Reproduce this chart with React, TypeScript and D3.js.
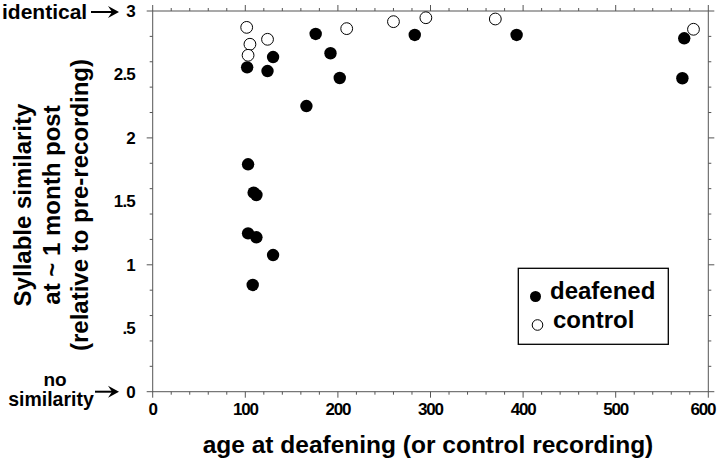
import React from "react";
import * as d3 from "d3";

const deafenedAge = [102, 124, 130, 166, 176, 192, 202, 103, 109, 112, 103, 112, 130, 108, 283, 393, 574, 572];
const deafenedSim = [2.556, 2.527, 2.637, 2.251, 2.819, 2.667, 2.472, 1.792, 1.568, 1.55, 1.248, 1.217, 1.077, 0.841, 2.811, 2.811, 2.785, 2.47];
const controlAge = [101.5, 105, 103, 124, 209.5, 260, 295, 370, 584];
const controlSim = [2.871, 2.738, 2.651, 2.777, 2.861, 2.916, 2.947, 2.937, 2.856];

const xTickValues = [0, 100, 200, 300, 400, 500, 600];
const xTickLabels = ["0", "100", "200", "300", "400", "500", "600"];
const yTickValues = [0, 0.5, 1, 1.5, 2, 2.5, 3];
const yTickLabels = ["0", ".5", "1", "1.5", "2", "2.5", "3"];

const xTitle = "age at deafening (or control recording)";
const yTitleLines = ["Syllable similarity", "at ~ 1 month post", "(relative to pre-recording)"];
const seriesNames = ["deafened", "control"];

const FONT = "'Liberation Sans', Arial, Helvetica, sans-serif";
const AXIS = "#555";

export default function App() {
  const x = d3.scaleLinear().domain([0, 600]).range([152.7, 708.3]);
  const y = d3.scaleLinear().domain([0, 3]).range([391.7, 11]);
  const [x0, x1] = x.range();
  const [y0, y1] = y.range();
  const xMinor = x.ticks(24);
  const yMinor = y.ticks(12);
  const isMajorX = (v: number) => Math.abs(v % 100) < 1e-6;
  const isMajorY = (v: number) => Math.abs((v * 2) % 1) < 1e-6;

  const arrow = (xs: number, xe: number, yc: number) => (
    <g>
      <line x1={xs} x2={xe - 4} y1={yc} y2={yc} stroke="#000" strokeWidth={2} />
      <path
        d={`M${xe - 11},${yc - 6} L${xe},${yc} L${xe - 11},${yc + 6} L${xe - 7},${yc} Z`}
        fill="#000"
      />
    </g>
  );

  return (
    <svg
      width={720}
      height={460}
      style={{ position: "absolute", left: 0, top: 0, background: "#fff" }}
      fontFamily={FONT}
    >
      <rect x={0} y={0} width={720} height={460} fill="#fff" />
      {/* frame */}
      <rect x={x0} y={y1} width={x1 - x0} height={y0 - y1} fill="none" stroke={AXIS} strokeWidth={1} />
      {/* x ticks bottom & top */}
      {xMinor.map((v, i) => {
        const L = isMajorX(v) ? 6 : 3;
        return (
          <g key={"xt" + i} stroke={AXIS} strokeWidth={1}>
            <line x1={x(v)} x2={x(v)} y1={y0} y2={y0 + L} />
            <line x1={x(v)} x2={x(v)} y1={y1} y2={y1 - L} />
          </g>
        );
      })}
      {yMinor.map((v, i) => {
        const L = isMajorY(v) ? 6 : 3;
        return (
          <g key={"yt" + i} stroke={AXIS} strokeWidth={1}>
            <line x1={x0} x2={x0 - L} y1={y(v)} y2={y(v)} />
            <line x1={x1} x2={x1 + L} y1={y(v)} y2={y(v)} />
          </g>
        );
      })}
      {/* x tick labels */}
      {xTickValues.map((v, i) => (
        <text
          key={"xl" + i}
          x={Math.min(x(v), 703)}
          y={415}
          textAnchor="middle"
          fontSize={17}
          fontWeight="bold"
          letterSpacing={-1.2}
        >
          {xTickLabels[i]}
        </text>
      ))}
      {/* y tick labels */}
      {yTickValues.map((v, i) => (
        <text
          key={"yl" + i}
          x={135}
          y={y(v)}
          dy="0.35em"
          textAnchor="end"
          fontSize={17}
          fontWeight="bold"
          letterSpacing={-0.8}
        >
          {yTickLabels[i]}
        </text>
      ))}
      {/* identical / no similarity annotations */}
      <text x={2} y={18.5} fontSize={21} fontWeight="bold">identical</text>
      {arrow(91, 119, y(3) + 1)}
      <text x={55} y={386} textAnchor="middle" fontSize={19} fontWeight="bold">no</text>
      <text x={51} y={406} textAnchor="middle" fontSize={19.5} fontWeight="bold">similarity</text>
      {arrow(95, 119, y(0))}
      {/* axis titles */}
      <text x={428} y={453} textAnchor="middle" fontSize={24.5} fontWeight="bold">{xTitle}</text>
      {yTitleLines.map((t, i) => (
        <text
          key={"yt-title" + i}
          transform={`translate(${31 + i * 28.5},205) rotate(-90)`}
          textAnchor="middle"
          fontSize={24}
          fontWeight="bold"
        >
          {t}
        </text>
      ))}
      {/* data */}
      {deafenedAge.map((a, i) => (
        <circle key={"d" + i} cx={x(a)} cy={y(deafenedSim[i])} r={6.2} fill="#000" />
      ))}
      {controlAge.map((a, i) => (
        <circle key={"c" + i} cx={x(a)} cy={y(controlSim[i])} r={5.9} fill="#fff" stroke="#000" strokeWidth={1} />
      ))}
      {/* legend */}
      <rect x={518.3} y={268.3} width={150} height={76} fill="#fff" stroke="#000" strokeWidth={1.3} />
      <circle cx={535.5} cy={296.5} r={5.5} fill="#000" />
      <text x={550} y={298.5} fontSize={24} fontWeight="bold">{seriesNames[0]}</text>
      <circle cx={537.5} cy={325} r={5.3} fill="#fff" stroke="#000" strokeWidth={1} />
      <text x={553} y={327.7} fontSize={24} fontWeight="bold">{seriesNames[1]}</text>
    </svg>
  );
}
